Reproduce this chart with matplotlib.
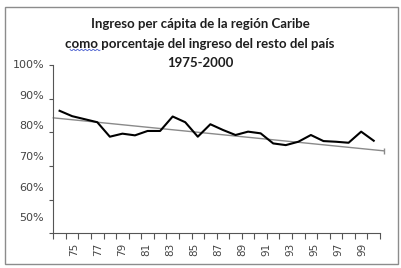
import numpy as np
import matplotlib
matplotlib.use("Agg")
from matplotlib import pyplot as plt
from matplotlib.patches import Rectangle
from matplotlib.lines import Line2D

# datos (porcentaje)
years = list(range(1975, 2001))
ingreso = [86.4, 84.8, 83.9, 83.0, 78.7, 79.6, 79.1, 80.4, 80.4, 84.7,
           83.0, 78.7, 82.4, 80.7, 79.2, 80.2, 79.7, 76.7, 76.2, 77.2,
           79.2, 77.4, 77.2, 76.9, 80.2, 77.5]
# tendencia lineal (extremos)
trend_x = [-0.5, 25.8]
trend_y = [84.3, 74.5]
yticks = [50, 60, 70, 80, 90, 100]
xlabels = [str(y)[2:] for y in years[::2]]

title1 = "Ingreso per cápita de la región Caribe"
title2 = "como porcentaje del ingreso del resto del país"
title3 = "1975-2000"

fig = plt.figure(figsize=(4.02, 2.68), dpi=100)
fig.patch.set_facecolor("white")

# marco exterior
fig.add_artist(Rectangle((5/402, 1-263.7/268), 392.7/402, 256.7/268,
                         transform=fig.transFigure, fill=False,
                         edgecolor="#8c8c8c", lw=1.0))

ax = fig.add_axes([53.3/402, 1-233.3/268, (380-53.3)/402, (233.3-65)/268])
x = np.arange(len(years))
ax.plot(x, ingreso, color="black", lw=1.5, zorder=3)
ax.plot(trend_x, trend_y, color="#8a8a8a", lw=1.0, marker="|", markersize=4,
        markevery=[1], clip_on=False, zorder=2)

ax.set_xlim(-0.5, len(years) - 0.5)
ax.set_ylim(50, 100)
ax.set_yticks(yticks)
ax.set_yticklabels([])

# marcas en los limites de categoria
ax.set_xticks(np.arange(-0.5, len(years)))
ax.set_xticklabels([])
ax.tick_params(axis="x", length=4, width=0.8, color="#555555", direction="out")
ax.tick_params(axis="y", length=3, width=0.8, color="#555555")

# etiquetas (el original las dibuja algo comprimidas respecto a las marcas)
lab = dict(color="#444444", family="DejaVu Sans", textcoords="offset pixels",
           annotation_clip=False)
for v in yticks:
    ax.annotate(f"{v}%", xy=(0, v), xycoords=ax.get_yaxis_transform(),
                xytext=(-9, 0.3*(100 - v)), ha="right", va="center",
                fontsize=8, **lab)
for i, t in zip(x[::2], xlabels):
    ax.annotate(t, xy=(i, 0), xycoords=ax.get_xaxis_transform(),
                xytext=(15 - 0.58*i, -9), ha="center", va="top",
                rotation=90, fontsize=7.5, **lab)

for s in ["top", "right"]:
    ax.spines[s].set_visible(False)
for s in ["left", "bottom"]:
    ax.spines[s].set_color("#555555")
    ax.spines[s].set_linewidth(0.8)

tfont = dict(family=["Lato", "DejaVu Sans"], fontweight="bold",
             color="#1e1e1e", ha="center", va="center", fontsize=9.5)
fig.text(0.4975, 1-24/268, title1, **tfont)
fig.text(0.4975, 1-44/268, title2, **tfont)
fig.text(0.4975, 1-63/268, title3, **tfont)

# subrayado del corrector bajo "como"
wx = np.linspace(70, 100, 30)
wy = 50 + 0.8*np.sin(wx*1.6)
fig.add_artist(Line2D(wx/402, 1-wy/268, transform=fig.transFigure,
                      color="#4a5fd0", lw=0.6))

fig.savefig("out.png", dpi=100, facecolor="white")
